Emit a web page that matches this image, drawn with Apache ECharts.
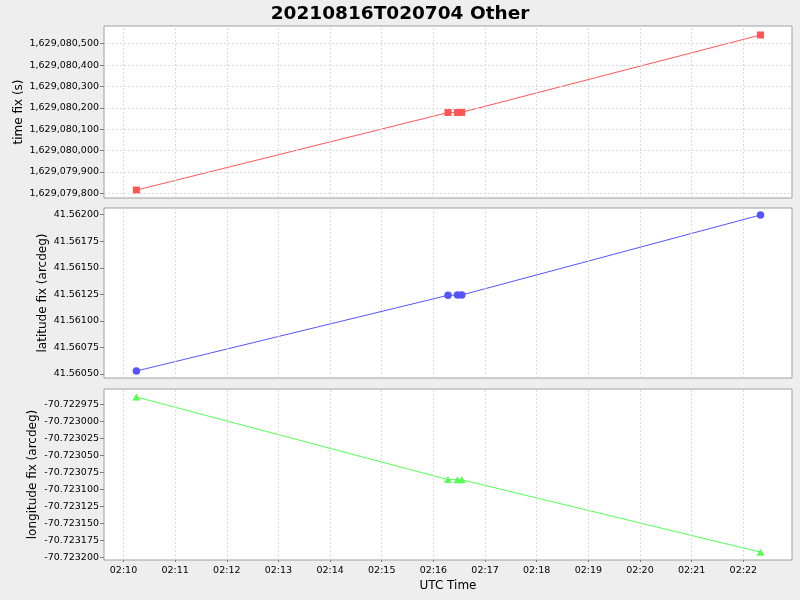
<!DOCTYPE html>
<html>
<head>
<meta charset="utf-8">
<script src="https://cdn.jsdelivr.net/npm/echarts@6/dist/echarts.min.js"></script>
<style>html,body{margin:0;padding:0;background:#eeeeee;}#c{width:800px;height:600px;}</style>
</head>
<body>
<div id="c"></div>
<script>
// ---- data ----
const utcTimes = ['2021-08-16T02:10:15Z','2021-08-16T02:16:17Z','2021-08-16T02:16:28Z','2021-08-16T02:16:33Z','2021-08-16T02:22:20Z'];
const timeFix = [1629079815, 1629080178, 1629080178, 1629080179, 1629080541];
const latFix = [41.560528, 41.561241, 41.561243, 41.561244, 41.561997];
const lonFix = [-70.7229636, -70.7230855, -70.7230857, -70.7230858, -70.7231926];

const xTickLabels = ['02:10','02:11','02:12','02:13','02:14','02:15','02:16','02:17','02:18','02:19','02:20','02:21','02:22'];
const timeTicks = [1629079800,1629079900,1629080000,1629080100,1629080200,1629080300,1629080400,1629080500];
const latTicks = [41.5605,41.56075,41.561,41.56125,41.5615,41.56175,41.562];
const lonTicks = [-70.7232,-70.723175,-70.72315,-70.723125,-70.7231,-70.723075,-70.72305,-70.723025,-70.723,-70.722975];

// ---- helpers ----
function toMs(hm){ const p = hm.split(':'); return Date.UTC(2021,7,16,+p[0],+p[1]); }
const xTickValues = xTickLabels.map(toMs);
const xMin = Date.UTC(2021,7,16,2,9,37,350);
const xMax = Date.UTC(2021,7,16,2,22,56,600);
function pad(n){ return (n<10?'0':'')+n; }
function fmtTime(v){ const d=new Date(v); return pad(d.getUTCHours())+':'+pad(d.getUTCMinutes()); }
function commas(v){ const s=String(Math.round(v)); return s.replace(/\B(?=(\d{3})+(?!\d))/g, ','); }
const tsData = utcTimes.map(t => new Date(t).getTime());

const font = 'DejaVu Sans';
const gridStyle = {show:true, backgroundColor:'#ffffff', borderColor:'#a0a0a0', borderWidth:1, left:104, right:8, containLabel:false, outerBoundsMode:'none'};
const gridLineStyle = {color:'#dadada', width:1, type:[2,2]};

function xAx(i, showLabels){
  return {
    type:'value', gridIndex:i, min:xMin, max:xMax,
    axisLine:{show:false},
    axisTick:{show:showLabels, customValues:xTickValues, length:2, lineStyle:{color:'#808080'}},
    axisLabel:{show:showLabels, customValues:xTickValues, formatter:fmtTime, color:'#000', fontFamily:font, fontSize:9.5, margin:6},
    splitLine:{show:false},
    name: showLabels ? 'UTC Time' : '',
    nameLocation:'middle', nameGap:20, nameMoveOverlap:false,
    nameTextStyle:{color:'#000', fontFamily:font, fontSize:12}
  };
}
function yAx(i, min, max, ticks, fmt, name, nameGap){
  return {
    type:'value', gridIndex:i, min:min, max:max, scale:true,
    axisLine:{show:false},
    axisTick:{show:true, customValues:ticks, length:4, lineStyle:{color:'#808080'}},
    axisLabel:{customValues:ticks, formatter:fmt, color:'#000', fontFamily:font, fontSize:9.5, margin:5},
    splitLine:{show:false},
    name:name, nameLocation:'middle', nameGap:nameGap, nameMoveOverlap:false,
    nameTextStyle:{color:'#000', fontFamily:font, fontSize:12}
  };
}
// gridlines drawn through the axes' own scales from the tick arrays
function gridLines(i, yTicks){
  return {
    type:'line', xAxisIndex:i, yAxisIndex:i, data:[], z:1, silent:true,
    markLine:{
      silent:true, symbol:'none', animation:false,
      label:{show:false}, lineStyle:gridLineStyle, emphasis:{disabled:true},
      data: xTickValues.map(v => ({xAxis:v})).concat(yTicks.map(v => ({yAxis:v})))
    }
  };
}

const chart = echarts.init(document.getElementById('c'), null, {renderer:'canvas'});
chart.setOption({
  animation:false,
  backgroundColor:'#eeeeee',
  title:{text:'20210816T020704 Other', left:'center', top:0, textStyle:{fontFamily:font, fontSize:18.5, fontWeight:'bold', color:'#000'}},
  grid:[
    Object.assign({top:26, height:172}, gridStyle),
    Object.assign({top:208, height:170}, gridStyle),
    Object.assign({top:389, height:171}, gridStyle)
  ],
  xAxis:[xAx(0,false), xAx(1,false), xAx(2,true)],
  yAxis:[
    yAx(0, 1629079778, 1629080583, timeTicks, commas, 'time fix (s)', 79),
    yAx(1, 41.5604623, 41.5620628, latTicks, v => v.toFixed(5), 'latitude fix (arcdeg)', 55),
    yAx(2, -70.7232042, -70.7229518, lonTicks, v => v.toFixed(6), 'longitude fix (arcdeg)', 65)
  ],
  series:[
    gridLines(0, timeTicks), gridLines(1, latTicks), gridLines(2, lonTicks),
    {type:'line', xAxisIndex:0, yAxisIndex:0, data:tsData.map((t,i)=>[t,timeFix[i]]), z:3,
     symbol:'rect', symbolSize:7, color:'#ff5555', lineStyle:{width:1, color:'#ff5555'}, itemStyle:{color:'#ff5555'}},
    {type:'line', xAxisIndex:1, yAxisIndex:1, data:tsData.map((t,i)=>[t,latFix[i]]), z:3,
     symbol:'circle', symbolSize:7.5, color:'#5555ff', lineStyle:{width:1, color:'#5555ff'}, itemStyle:{color:'#5555ff'}},
    {type:'line', xAxisIndex:2, yAxisIndex:2, data:tsData.map((t,i)=>[t,lonFix[i]]), z:3,
     symbol:'triangle', symbolSize:[8,7], color:'#55ff55', lineStyle:{width:1, color:'#55ff55'}, itemStyle:{color:'#55ff55'}}
  ]
});
</script>
</body>
</html>
